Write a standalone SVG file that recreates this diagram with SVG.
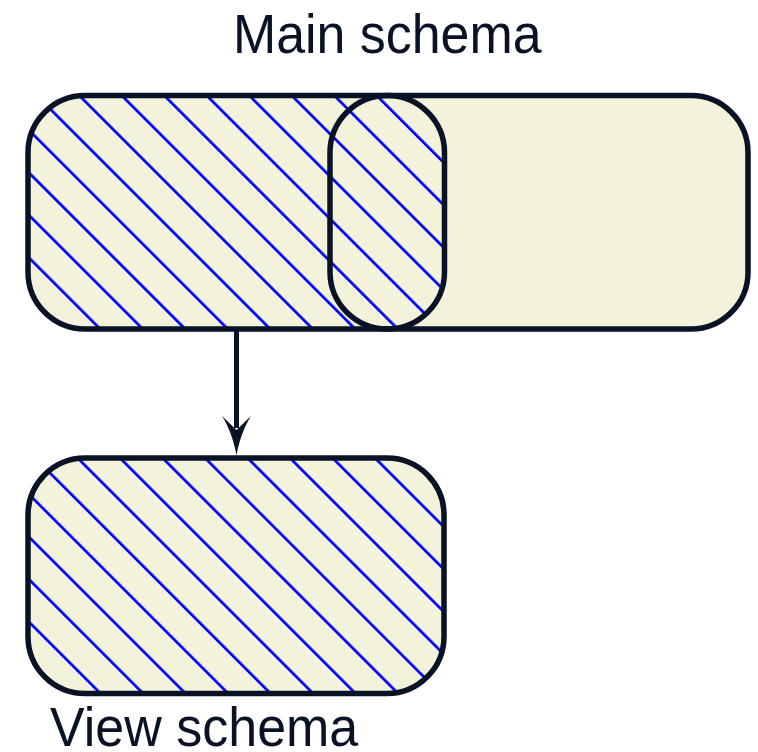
<svg xmlns="http://www.w3.org/2000/svg" width="758" height="752" viewBox="0 0 758 752">
  <style>
    .box { fill: #f3f3dc; stroke: none; }
    .outline { fill: none; stroke: #0a1226; stroke-width: 5.5; }
    .label { font-family: "Liberation Sans", Arial, sans-serif; font-size: 55px; fill: #0a1226; }
    .edge { stroke: #0a1226; stroke-width: 5; fill: none; }
  </style>
  <defs>
    <!-- diagonal "\" hatching, 42.5px horizontal period -->
    <pattern id="hatchMain" patternUnits="userSpaceOnUse" width="30.05" height="10" patternTransform="translate(24.3,0) rotate(-45)">
      <rect x="0" y="-1" width="2.7" height="12" fill="#0000ff"/>
    </pattern>
    <pattern id="hatchView" patternUnits="userSpaceOnUse" width="30.05" height="10" patternTransform="translate(0.1,0) rotate(-45)">
      <rect x="0" y="-1" width="2.7" height="12" fill="#0000ff"/>
    </pattern>
    <!-- hatched part of the main schema: everything left of the pill's centre plus the pill itself -->
    <clipPath id="selectedPart">
      <rect x="0" y="0" width="387.25" height="752"/>
      <rect x="330" y="95.5" width="114.5" height="233.5" rx="57.25" ry="57.25"/>
    </clipPath>
  </defs>

  <g id="main-schema">
    <rect class="box" x="28" y="95.5" width="720" height="233.5" rx="57" ry="57"/>
    <rect x="28" y="95.5" width="720" height="233.5" rx="57" ry="57" fill="url(#hatchMain)" clip-path="url(#selectedPart)"/>
    <rect class="outline" x="330" y="95.5" width="114.5" height="233.5" rx="57.25" ry="57.25"/>
    <rect class="outline" x="28" y="95.5" width="720" height="233.5" rx="57" ry="57"/>
    <text class="label" x="233" y="53.3" textLength="308.5" lengthAdjust="spacingAndGlyphs">Main schema</text>
  </g>

  <g id="view-schema">
    <rect class="box" x="28" y="458" width="416" height="235.5" rx="57" ry="57"/>
    <rect x="28" y="458" width="416" height="235.5" rx="57" ry="57" fill="url(#hatchView)"/>
    <rect class="outline" x="28" y="458" width="416" height="235.5" rx="57" ry="57"/>
    <text class="label" x="50" y="745.5" textLength="308.3" lengthAdjust="spacingAndGlyphs">View schema</text>
  </g>

  <g id="connectors">
    <line class="edge" x1="236.5" y1="331" x2="236.5" y2="428"/>
    <path d="M236.5,455.5 C234,441 229,427 222,416 L236.5,430 L251,416 C244,427 239,441 236.5,455.5 Z" fill="#0a1226"/>
  </g>
</svg>
